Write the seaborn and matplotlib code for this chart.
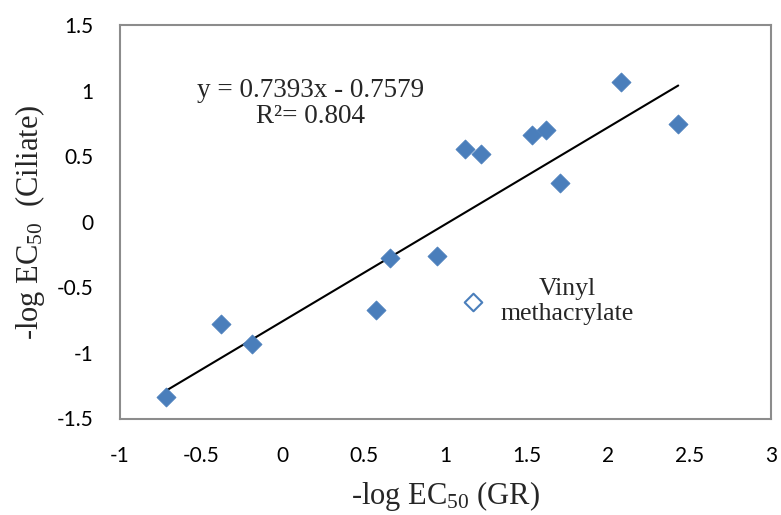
# Ciliate vs GR toxicity scatter with linear trend
import numpy as np
import pandas as pd
import matplotlib
matplotlib.use('Agg')
import matplotlib.pyplot as plt
import matplotlib.ticker as mticker
import seaborn as sns

# data
gr_values = [-0.72, -0.38, -0.19, 0.575, 0.66, 0.945, 1.117, 1.217, 1.531, 1.615, 1.706, 2.077, 2.43]
ciliate_values = [-1.338, -0.777, -0.934, -0.673, -0.274, -0.261, 0.555, 0.516, 0.659, 0.697, 0.298, 1.068, 0.747]
outlier_gr = [1.166]
outlier_ciliate = [-0.612]
slope = 0.7393
intercept = -0.7579
r_squared = 0.804

df = pd.DataFrame({'gr': gr_values, 'ciliate': ciliate_values})
out_df = pd.DataFrame({'gr': outlier_gr, 'ciliate': outlier_ciliate})
trend_x = np.array([min(gr_values), max(gr_values)])
trend_df = pd.DataFrame({'gr': trend_x, 'ciliate': slope * trend_x + intercept})

sns.set_style('white')
plt.rcParams['font.family'] = ['Lato', 'DejaVu Sans']
plt.rcParams['axes.unicode_minus'] = False

blue = '#4A7EBB'
grey = '#8C8C8C'

fig = plt.figure(figsize=(7.81, 5.15), dpi=100)
ax = fig.add_axes([120 / 781, 1 - 418.5 / 515, 651 / 781, 393.5 / 515])

sns.lineplot(data=trend_df, x='gr', y='ciliate', color='black', linewidth=1.5, ax=ax, zorder=2)
sns.scatterplot(data=df, x='gr', y='ciliate', marker='D', s=95, color=blue,
                edgecolor=blue, linewidth=0.5, ax=ax, zorder=3)
sns.scatterplot(data=out_df, x='gr', y='ciliate', marker='D', s=80, facecolor='white',
                edgecolor=blue, linewidth=1.5, ax=ax, zorder=3)

ax.set_xlim(-1, 3)
ax.set_ylim(-1.5, 1.5)
ax.xaxis.set_major_locator(mticker.MultipleLocator(0.5))
ax.yaxis.set_major_locator(mticker.MultipleLocator(0.5))
fmt = mticker.FuncFormatter(lambda v, p: '%g' % round(v, 2))
ax.xaxis.set_major_formatter(fmt)
ax.yaxis.set_major_formatter(fmt)

for sp in ax.spines.values():
    sp.set_color(grey)
    sp.set_linewidth(1.5)
ax.tick_params(axis='both', direction='out', length=6, width=1.5, color=grey,
               labelsize=15, labelcolor='black')
ax.tick_params(axis='x', pad=14)
ax.tick_params(axis='y', pad=13)

serif = ['Liberation Serif', 'DejaVu Serif']
ax.set_xlabel(r'-log EC$\mathregular{_{50}}$ (GR)', family=serif, fontsize=22, va='center')
ax.set_ylabel(r'-log EC$\mathregular{_{50}}$  (Ciliate)', family=serif, fontsize=22, va='center')
ax.xaxis.set_label_coords(0.5, -0.198)
ax.yaxis.set_label_coords(-0.138, 0.5)

ax.text(0.169, 0.901, 'y = %.4fx - %.4f\nR\u00b2= %.3f' % (slope, -intercept, r_squared),
        family=serif, fontsize=19.5, ha='center', va='center', linespacing=1.07)
ax.text(1.75, -0.61, 'Vinyl\nmethacrylate', family=serif, fontsize=18.5,
        ha='center', va='center', linespacing=1.2)

fig.savefig('out.png', dpi=100)
